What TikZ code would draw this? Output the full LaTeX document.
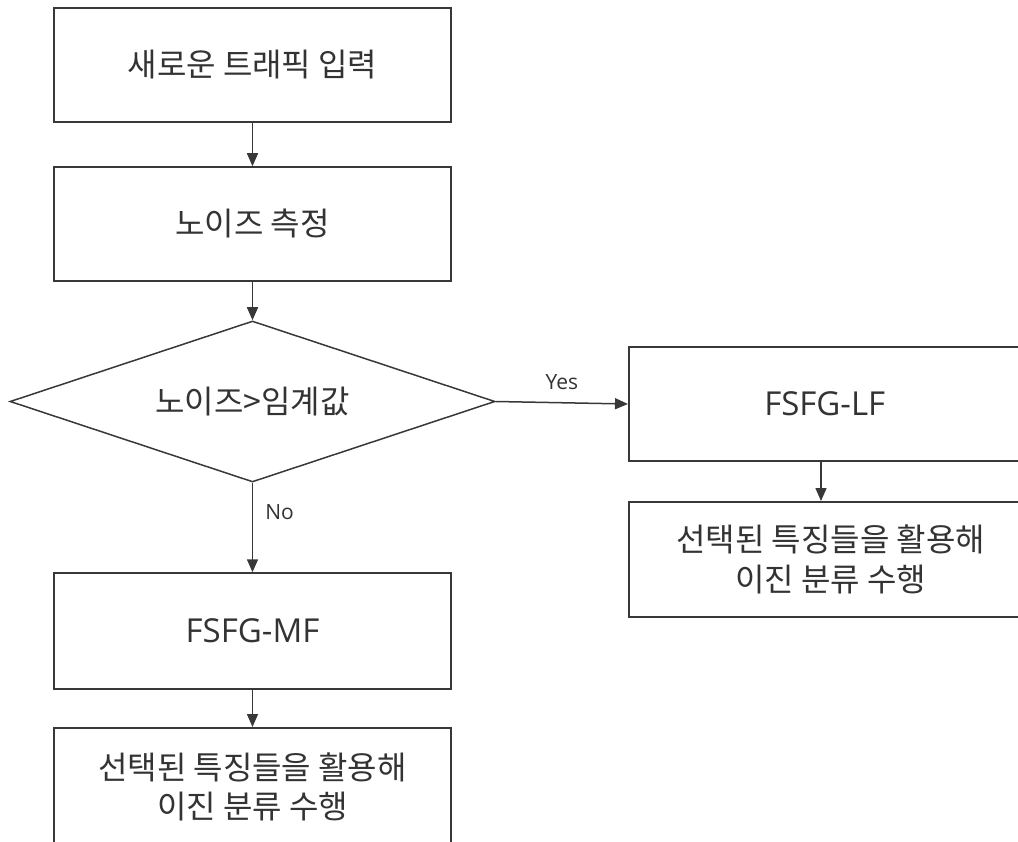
\documentclass[tikz,border=0pt]{standalone}
\usepackage{fontspec}
\setmainfont{Open Sans}
\newfontfamily\kr{Noto Sans CJK KR}
\usetikzlibrary{shapes.geometric,arrows.meta}
\tikzset{
  line/.style={draw=black!78, line width=1.5pt},
  box/.style={line, rectangle, inner sep=0pt, minimum width=397pt, text=black!80, align=center},
  krtext/.style={font=\kr\fontsize{32}{39.5}\selectfont},
  lattext/.style={font=\fontsize{33}{40}\selectfont},
  lbl/.style={font=\fontsize{21}{24}\selectfont, text=black!80, inner sep=0pt},
  arr/.style={line, -{Triangle[length=13pt,width=11pt]}}
}
\begin{document}
\begin{tikzpicture}[x=1pt,y=-1pt]
\useasboundingbox (0,0) rectangle (1018,842);
\clip (0,0) rectangle (1018,842);
\node[box, minimum height=114pt, krtext] (b1) at (252.5,65) {새로운 트래픽 입력};
\node[box, minimum height=114pt, krtext] (b2) at (252.5,224) {노이즈 측정};
\node[line, diamond, aspect=3.01, inner sep=0pt, minimum width=485pt, minimum height=161pt, krtext, text=black!80] (dia) at (252.5,401.5) {노이즈>임계값};
\node[box, minimum height=116pt, lattext] (mf) at (252.5,631) {FSFG-MF};
\node[box, minimum height=118pt, krtext, anchor=north] (cl) at (252.5,727) {선택된 특징들을 활용해\\이진 분류 수행};
\node[box, minimum width=420pt, minimum height=114pt, lattext, anchor=west] (lf) at (628,404) {\hspace*{-28pt}FSFG-LF};
\node[box, minimum width=420pt, minimum height=115pt, krtext, anchor=north west] (cr) at (628,501) {\hspace*{-16pt}선택된 특징들을 활용해\\\hspace*{-16pt}이진 분류 수행};
\coordinate (lftop) at (821,461);
\coordinate (crtop) at (821,501);
\draw[arr] (b1.south) -- (b2.north);
\draw[arr] (b2.south) -- (dia.north);
\draw[arr] (dia.south) -- node[lbl, right=12pt, pos=0.33] (no) {No} (mf.north);
\draw[arr] (mf.south) -- (cl.north);
\draw[arr] (dia.east) -- node[lbl, above=12pt, pos=0.5] (yes) {Yes} (lf.west);
\draw[arr] (lftop) -- (crtop);
\end{tikzpicture}
\end{document}
